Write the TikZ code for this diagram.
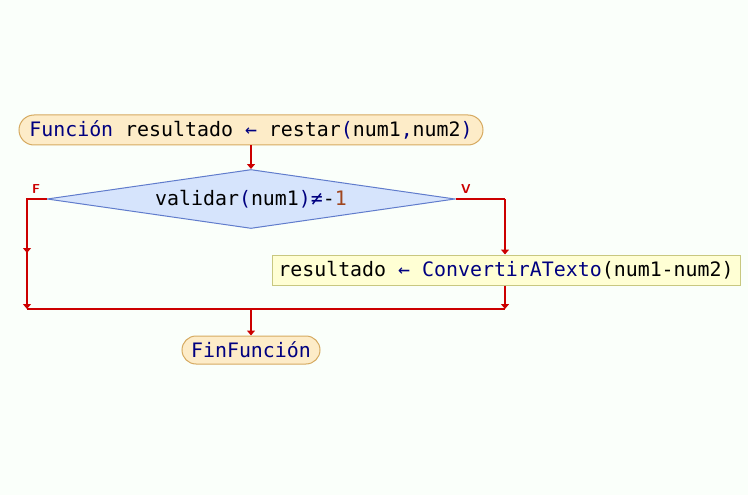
\documentclass[tikz,border=0pt]{standalone}
\usepackage{fontspec}
\setmonofont{DejaVu Sans Mono}
\usetikzlibrary{shapes.geometric,shapes.misc,arrows.meta}
\definecolor{bg}{RGB}{250,255,250}
\definecolor{termfill}{RGB}{253,236,200}
\definecolor{termdraw}{RGB}{214,170,96}
\definecolor{decfill}{RGB}{214,228,252}
\definecolor{decdraw}{RGB}{96,124,204}
\definecolor{procfill}{RGB}{255,255,212}
\definecolor{procdraw}{RGB}{200,200,128}
\definecolor{flow}{RGB}{204,0,0}
\definecolor{kw}{RGB}{0,0,128}
\definecolor{numc}{RGB}{160,70,30}
\newcommand{\kwd}[1]{\textcolor{kw}{#1}}
\begin{document}
\begin{tikzpicture}[x=1pt,y=-1pt,
  txt/.style={font=\ttfamily\fontsize{19.9}{22}\selectfont, text=black, inner sep=0pt},
  term/.style={txt, rounded rectangle, draw=termdraw, fill=termfill, line width=1pt},
  dec/.style={txt, diamond, aspect=6.9, draw=decdraw, fill=decfill, line width=1pt, minimum width=408pt, minimum height=59pt},
  proc/.style={txt, rectangle, draw=procdraw, fill=procfill, line width=1pt},
  flowline/.style={draw=flow, line width=1.6pt},
  flowarrow/.style={flowline, -{Triangle[width=8pt,length=5pt]}},
  lbl/.style={text=flow, font=\sffamily\bfseries\fontsize{13}{14}\selectfont, inner sep=0pt}]
\fill[bg] (0,0) rectangle (748,495);
\useasboundingbox (0,0) rectangle (748,495);
\node[term, minimum width=464pt, minimum height=30pt] (start) at (251,130)
  {\kwd{Función} resultado \kwd{←} restar\kwd{(}num1\kwd{,}num2\kwd{)}};
\node[dec] (cond) at (251,199) {validar\kwd{(}num1\kwd{)≠}-\textcolor{numc}{1}};
\node[proc, minimum width=468pt, minimum height=30pt] (assign) at (506,270)
  {resultado \kwd{←} \kwd{ConvertirATexto}(num1-num2)};
\node[term, minimum width=138pt, minimum height=28pt] (fin) at (251,350)
  {\kwd{FinFunción}};
\coordinate (lt) at (27,199);
\coordinate (lmid) at (27,253);
\coordinate (lb) at (27,309);
\coordinate (rt) at (505,199);
\coordinate (rb) at (505,309);
\coordinate (mb) at (251,309);
\node[lbl] (f) at (36,189) {F};
\node[lbl] (v) at (466,189) {V};
\draw[flowarrow] (start.south) -- (cond.north);
\draw[flowline] (cond.west) -- (lt) -- (lmid);
\draw[flowarrow] (lt) -- (lmid);
\draw[flowarrow] (lmid) -- (lb);
\draw[flowline] (lb) -- (rb);
\draw[flowline] (cond.east) -- (rt);
\draw[flowarrow] (rt) -- (assign.north -| rt);
\draw[flowarrow] (assign.south -| rb) -- (rb);
\draw[flowarrow] (mb) -- (fin.north);
\end{tikzpicture}
\end{document}
